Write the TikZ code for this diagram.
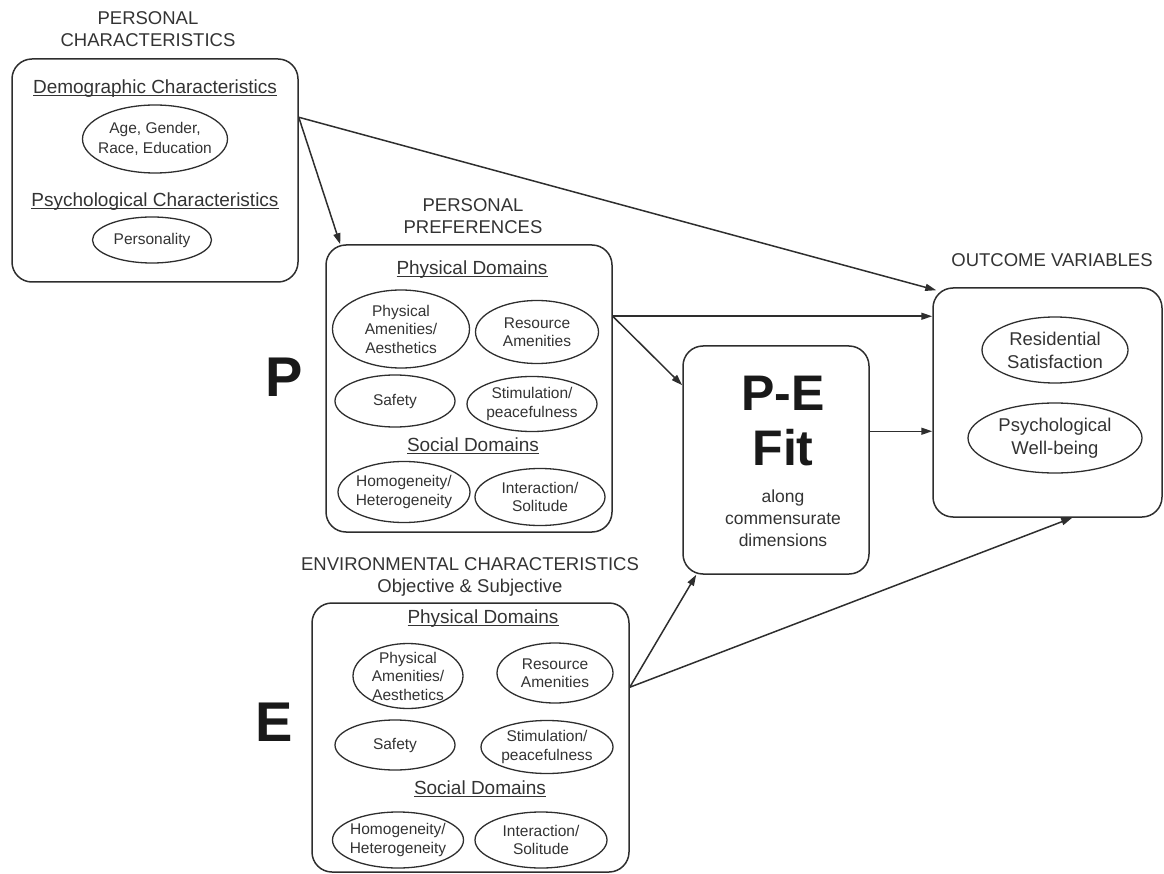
\documentclass[tikz,border=0pt]{standalone}
\usepackage{fontspec}
\setmainfont{Liberation Sans}
\usetikzlibrary{shapes.geometric,arrows.meta}
\definecolor{ink}{HTML}{2E2E2E}
\definecolor{txt}{HTML}{333333}
\newcommand\fsz[2]{\fontsize{#1}{#2}\selectfont}
\newcommand\uln[1]{\underline{\raisebox{0pt}[\height][0pt]{#1}}}
\tikzset{
  box/.style={draw=ink, line width=1.5pt, rounded corners=20pt, minimum width=#1},
  ell/.style 2 args={draw=ink, line width=1.3pt, ellipse, inner sep=0pt, minimum width=#1, minimum height=#2},
  etext/.style={text=txt, align=center, font=\fsz{15.5}{18.5}},
  otext/.style={text=txt, align=center, font=\fsz{18.5}{23}},
  head/.style={text=txt, font=\fsz{19}{22}},
  title/.style={text=txt, align=center, font=\fsz{18.5}{22}},
  big/.style={text=black!90, font=\fsz{56}{60}\bfseries},
  arr/.style={draw=ink, line width=1.5pt, -{Triangle[length=11pt,width=7pt]}},
}
\begin{document}
\begin{tikzpicture}[x=1pt,y=-1pt]
\useasboundingbox (0,0) rectangle (1164,874);

% ---------------- Personal characteristics
\node[title] (pctitle) at (148,29) {PERSONAL\\CHARACTERISTICS};
\node[box=286pt, minimum height=223pt] (pc) at (155,170.5) {};
\node[head] (demo) at (155,88) {\uln{Demographic Characteristics}};
\node[ell={145pt}{68pt}, label={[etext, font=\fsz{15.5}{19.5}]center:{Age, Gender,\\Race, Education}}] (age) at (155,139) {};
\node[head] (psych) at (155,201) {\uln{Psychological Characteristics}};
\node[ell={119pt}{46pt}, label={[etext]center:{Personality}}] (pers) at (152,240) {};

% ---------------- Personal preferences
\node[title] (pptitle) at (473,216) {PERSONAL\\PREFERENCES};
\node[box=286pt, minimum height=287pt] (prefs) at (469,388.5) {};
\node[head] (pphys) at (472,269) {\uln{Physical Domains}};
\node[ell={137pt}{78pt}, label={[etext]center:{Physical\\Amenities/\\Aesthetics}}] (pa) at (401,329) {};
\node[ell={123pt}{63pt}, label={[etext]center:{Resource\\Amenities}}] (ra) at (537,332) {};
\node[ell={120pt}{52pt}, label={[etext]center:{Safety}}] (sa) at (395,401) {};
\node[ell={130pt}{55pt}, label={[etext]center:{Stimulation/\\peacefulness}}] (st) at (532,404) {};
\node[head] (psoc) at (473,446) {\uln{Social Domains}};
\node[ell={132pt}{61pt}, label={[etext]center:{Homogeneity/\\Heterogeneity}}] (ho) at (404,492) {};
\node[ell={130pt}{57pt}, label={[etext]center:{Interaction/\\Solitude}}] (in) at (540,497) {};
\node[big] (bigP) at (284.5,377.5) {P};

% ---------------- P-E fit
\node[box=186pt, minimum height=228pt] (fit) at (776,460) {};
\node[text=black!90, align=center, font=\fsz{50}{55}\bfseries] (fitbig) at (783,421) {P-E\\Fit};
\node[text=txt, align=center, font=\fsz{17.5}{22}] (fitsmall) at (783,518) {along\\commensurate\\dimensions};

% ---------------- Outcome variables
\node[title] (outtitle) at (1052,260) {OUTCOME VARIABLES};
\node[box=229pt, minimum height=229pt] (out) at (1047.5,402.5) {};
\node[ell={146pt}{66pt}, label={[otext]center:{Residential\\Satisfaction}}] (rs) at (1055,350) {};
\node[ell={174pt}{70pt}, label={[otext]center:{Psychological\\Well-being}}] (pw) at (1055,438) {};

% ---------------- Environmental characteristics
\node[title] (envtitle) at (470,577) {ENVIRONMENTAL CHARACTERISTICS\\Objective \& Subjective};
\node[box=317pt, minimum height=269pt] (env) at (470.5,737.5) {};
\node[head] (ephys) at (483,618) {\uln{Physical Domains}};
\node[ell={110pt}{65pt}, label={[etext]center:{Physical\\Amenities/\\Aesthetics}}] (epa) at (408,676) {};
\node[ell={116pt}{60pt}, label={[etext]center:{Resource\\Amenities}}] (era) at (555,673) {};
\node[ell={120pt}{50pt}, label={[etext]center:{Safety}}] (esa) at (395,745) {};
\node[ell={132pt}{53pt}, label={[etext]center:{Stimulation/\\peacefulness}}] (est) at (547,747) {};
\node[head] (esoc) at (480,789) {\uln{Social Domains}};
\node[ell={131pt}{56pt}, label={[etext]center:{Homogeneity/\\Heterogeneity}}] (eho) at (398,840) {};
\node[ell={132pt}{56pt}, label={[etext]center:{Interaction/\\Solitude}}] (ein) at (541,840) {};
\node[big] (bigE) at (274,722) {E};

% ---------------- connectors
\coordinate (pcA) at ([yshift=-59pt]pc.north east);
\coordinate (prefsA) at ([yshift=-72pt]prefs.north east);
\coordinate (fitA) at ([yshift=-86pt]fit.north east);
\coordinate (envA) at ([yshift=-85pt]env.north east);

\draw[arr] (pcA) -- ([xshift=15pt]prefs.north west);
\draw[arr] (pcA) -- ([shift={(4pt,-3pt)}]out.north west);
\draw[arr] (prefsA) -- (out.west |- prefsA);
\draw[arr] (prefsA) -- ([yshift=-40pt]fit.north west);
\draw[arr] (fitA) -- (out.west |- fitA);
\draw[arr] (envA) -- ([xshift=14pt]fit.south west);
\draw[arr] (envA) -- ([xshift=140pt]out.south west);
\end{tikzpicture}
\end{document}
